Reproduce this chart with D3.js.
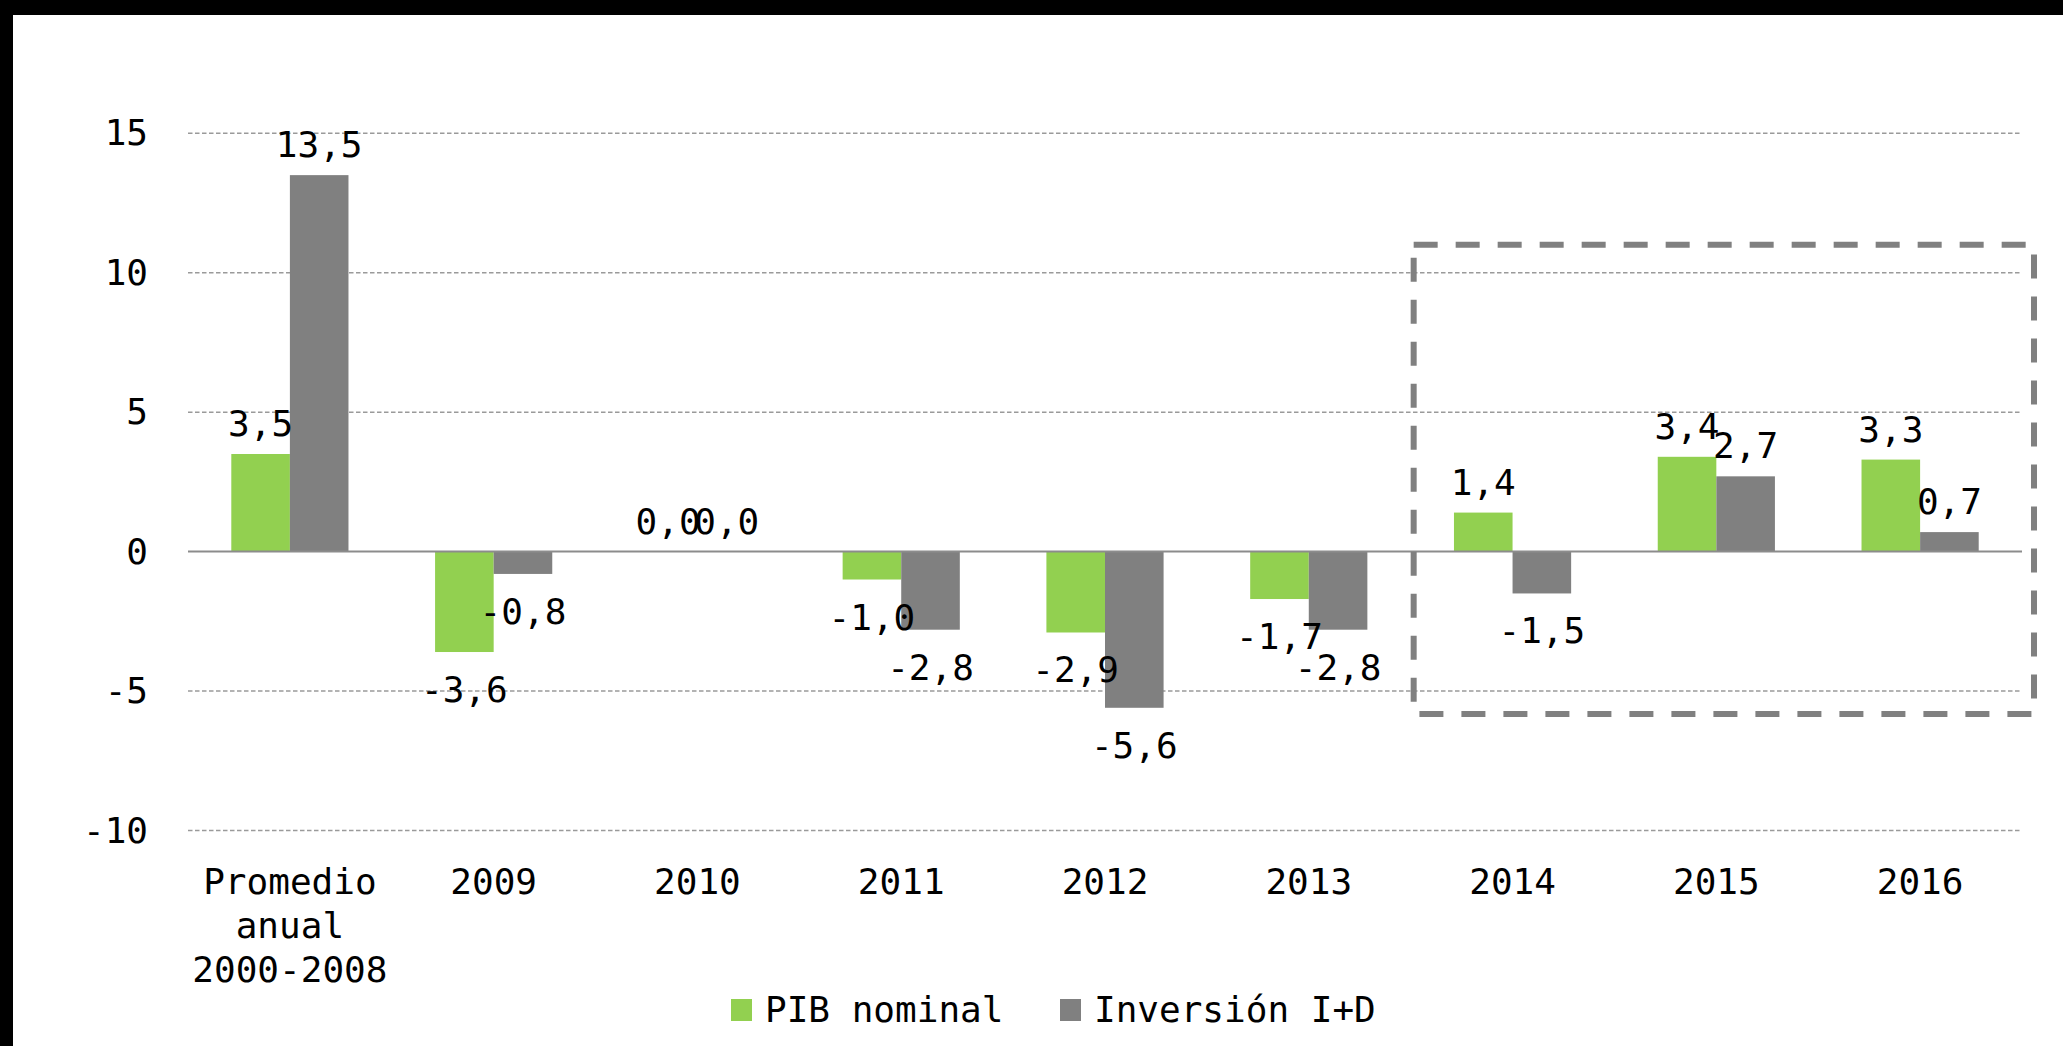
<!DOCTYPE html>
<html>
<head>
<meta charset="utf-8">
<script src="https://cdnjs.cloudflare.com/ajax/libs/d3/7.8.5/d3.min.js"></script>
<style>
  html, body { margin: 0; padding: 0; background: #000; }
  svg { display: block; }
  text { font-family: "DejaVu Sans Mono", "Liberation Mono", monospace; font-size: 36px; fill: #000; }
</style>
</head>
<body>
<svg id="chart"></svg>
<script>
// categories and series
var categories = ["Promedio anual 2000-2008", "2009", "2010", "2011", "2012", "2013", "2014", "2015", "2016"];
var pib = [3.5, -3.6, 0.0, -1.0, -2.9, -1.7, 1.4, 3.4, 3.3];
var inversion = [13.5, -0.8, 0.0, -2.8, -5.6, -2.8, -1.5, 2.7, 0.7];
var seriesNames = ["PIB nominal", "Inversión I+D"];
var yTicks = [15, 10, 5, 0, -5, -10];

var colors = { "PIB nominal": "#92d050", "Inversión I+D": "#808080" };

var width = 2063, height = 1046;
var svg = d3.select("#chart").attr("width", width).attr("height", height);

// white page inside black frame (top and left)
svg.append("rect").attr("x", 13).attr("y", 15)
  .attr("width", width - 13).attr("height", height - 15).attr("fill", "#fff");

var left = 188, right = 2022;

var y = d3.scaleLinear().domain([-10, 15]).range([830.5, 133.3]);

var x0 = d3.scaleBand().domain(categories).range([left, right]).paddingInner(0).paddingOuter(0);
var x1 = d3.scaleBand().domain(seriesNames).range([0, x0.bandwidth()]).paddingInner(0).paddingOuter(0.739);

// comma decimals, plain hyphen for minus
var fmt = function(v) { return v.toFixed(1).replace(".", ","); };

// gridlines
svg.append("g").selectAll("line")
  .data(yTicks.filter(function(d){ return d !== 0; }))
  .enter().append("line")
  .attr("x1", left).attr("x2", right)
  .attr("y1", function(d){ return y(d); }).attr("y2", function(d){ return y(d); })
  .attr("stroke", "#9a9a9a").attr("stroke-width", 1.4)
  .attr("stroke-dasharray", "4.5,2.5");

// y labels
svg.append("g").selectAll("text")
  .data(yTicks).enter().append("text")
  .attr("x", 148).attr("y", function(d){ return y(d) + 12; })
  .attr("text-anchor", "end")
  .text(function(d){ return String(d); });

// rows
var rows = categories.map(function(c, i) {
  return { cat: c, values: [
    { name: seriesNames[0], v: pib[i] },
    { name: seriesNames[1], v: inversion[i] }
  ]};
});

var groups = svg.append("g").selectAll("g")
  .data(rows).enter().append("g")
  .attr("transform", function(d){ return "translate(" + x0(d.cat) + ",0)"; });

groups.selectAll("rect")
  .data(function(d){ return d.values; })
  .enter().append("rect")
  .attr("x", function(d){ return x1(d.name); })
  .attr("width", x1.bandwidth())
  .attr("y", function(d){ return y(Math.max(0, d.v)); })
  .attr("height", function(d){ return Math.abs(y(d.v) - y(0)); })
  .attr("fill", function(d){ return colors[d.name]; });

// zero axis line
svg.append("line")
  .attr("x1", left).attr("x2", right)
  .attr("y1", y(0)).attr("y2", y(0))
  .attr("stroke", "#8c8c8c").attr("stroke-width", 2);

// value labels
groups.selectAll("text.val")
  .data(function(d){ return d.values; })
  .enter().append("text")
  .attr("class", "val")
  .attr("x", function(d){ return x1(d.name) + x1.bandwidth() / 2; })
  .attr("y", function(d){ return d.v >= 0 ? y(d.v) - 18 : y(d.v) + 50; })
  .attr("text-anchor", "middle")
  .text(function(d){ return fmt(d.v); });

// x labels (first one wraps)
var xLabelLines = {
  "Promedio anual 2000-2008": ["Promedio", "anual", "2000-2008"]
};
var xl = svg.append("g").selectAll("text")
  .data(categories).enter().append("text")
  .attr("x", function(d){ return x0(d) + x0.bandwidth() / 2; })
  .attr("y", 894)
  .attr("text-anchor", "middle");
xl.each(function(d) {
  var lines = xLabelLines[d] || [d];
  var t = d3.select(this);
  lines.forEach(function(l, i) {
    t.append("tspan")
      .attr("x", x0(d) + x0.bandwidth() / 2)
      .attr("dy", i === 0 ? 0 : 44)
      .text(l);
  });
});

// highlight box around 2014-2016
var boxX0 = x0("2014") + 3, boxX1 = right + 12;
svg.append("rect")
  .attr("x", boxX0).attr("y", y(11.0))
  .attr("width", boxX1 - boxX0)
  .attr("height", y(-5.82) - y(11.0))
  .attr("fill", "none")
  .attr("stroke", "#808080").attr("stroke-width", 6)
  .attr("stroke-dasharray", "24,18");

// legend
var legendItems = [
  { name: seriesNames[0], x: 731, tx: 765 },
  { name: seriesNames[1], x: 1060, tx: 1094 }
];
var lg = svg.append("g").selectAll("g")
  .data(legendItems).enter().append("g");
lg.append("rect")
  .attr("x", function(d){ return d.x; }).attr("y", 999)
  .attr("width", 21).attr("height", 22)
  .attr("fill", function(d){ return colors[d.name]; });
lg.append("text")
  .attr("x", function(d){ return d.tx; }).attr("y", 1022)
  .text(function(d){ return d.name; });
</script>
</body>
</html>
